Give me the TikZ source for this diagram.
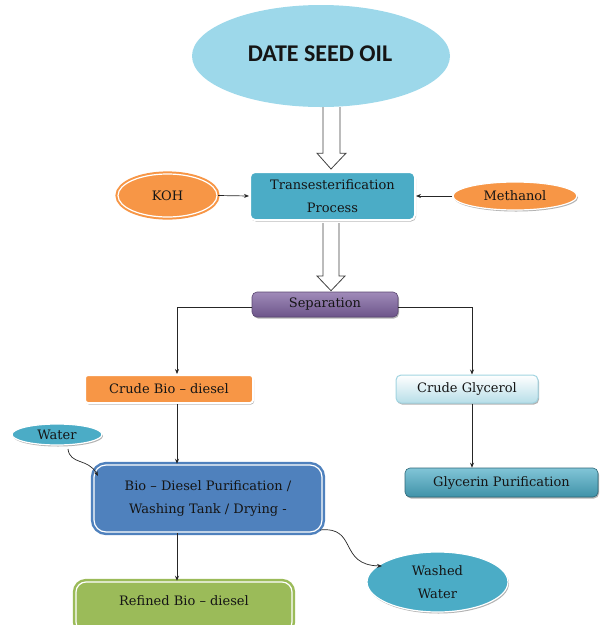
\documentclass[tikz,border=0pt]{standalone}
\usepackage{fontspec}
\setmainfont{DejaVu Serif}
\newfontfamily\titlefont{Carlito}
\usetikzlibrary{shapes.geometric,arrows.meta,shadows,calc}
\definecolor{skyC}{HTML}{9DD8EA}
\definecolor{tealC}{HTML}{4BACC6}
\definecolor{orangeC}{HTML}{F79646}
\definecolor{purpleC}{HTML}{8064A2}
\definecolor{blueC}{HTML}{4F81BD}
\definecolor{greenC}{HTML}{9BBB59}
\definecolor{lblueC}{HTML}{B7DEE8}
\definecolor{txtC}{HTML}{151515}
\tikzset{
  lbl/.style={font=\fontsize{13}{23}\selectfont, text=txtC, align=center, inner sep=0pt},
  shad/.style={drop shadow={shadow xshift=1pt, shadow yshift=-1.5pt, opacity=0.3, fill=black}},
  rbox/.style={lbl, rectangle, rounded corners=5pt, shad},
  oval/.style={lbl, ellipse, inner sep=0pt, shad},
  conn/.style={draw=black!85, line width=0.7pt, -{Stealth[length=5pt,width=4pt]}},
  hollow/.style={draw=black!75, line width=0.8pt, fill=white, line join=miter}
}
\begin{document}
\begin{tikzpicture}[x=1pt,y=-1pt]
\useasboundingbox (0,0) rectangle (603,625);
% top ellipse
\node[ellipse, fill=skyC, minimum width=258pt, minimum height=102pt, inner sep=0pt] (title) at (321,56) {};
\node[font=\titlefont\bfseries\fontsize{24}{28}\selectfont, text=txtC] (titletxt) at (320,54) {DATE SEED OIL};
% process boxes
\node[rbox, fill=tealC, draw=white, line width=2pt, minimum width=165pt, minimum height=48pt] (trans) at (332.5,196) {Transesterification\\Process};
\node[oval, fill=orangeC, draw=orangeC, line width=2pt, double=white, double distance=1.2pt, minimum width=99pt, minimum height=43pt] (koh) at (167.5,195.5) {KOH};
\node[oval, fill=orangeC, draw=white, line width=1.2pt, minimum width=124pt, minimum height=28pt] (meth) at (515,196) {Methanol};
\node[rbox, top color=purpleC!75!white, bottom color=purpleC!85!black, draw=purpleC!70!black, line width=0.6pt, minimum width=146pt, minimum height=25pt] (sep) at (325,304.5) {Separation};
\node[rbox, fill=orangeC, draw=white, line width=2pt, minimum width=168pt, minimum height=28pt, rounded corners=3pt] (cbio) at (169,389) {Crude Bio -- diesel};
\node[rbox, top color=white, bottom color=lblueC, draw=lblueC!80!tealC, line width=1pt, minimum width=142pt, minimum height=28pt] (cgly) at (467,389) {Crude Glycerol};
\node[rbox, top color=tealC!70!white, bottom color=tealC!85!black, draw=tealC!60!black, line width=0.6pt, minimum width=193pt, minimum height=29pt] (glyc) at (501.5,482.5) {Glycerin Purification};
\node[oval, fill=tealC, draw=white, line width=1.2pt, minimum width=90pt, minimum height=21pt] (water) at (57,434.5) {Water};
\node[rbox, fill=blueC, draw=blueC, line width=2.5pt, double=white, double distance=1.2pt, rounded corners=12pt, minimum width=228pt, minimum height=67pt] (purif) at (208,498.5) {Bio -- Diesel Purification /\\Washing Tank / Drying -};
\node[rbox, fill=greenC, draw=greenC, line width=2.5pt, double=white, double distance=1.2pt, rounded corners=10pt, minimum width=216pt, minimum height=50pt] (refined) at (184,607) {};
\node[lbl] (refinedtxt) at (184,601) {Refined Bio -- diesel};
\node[oval, fill=tealC, draw=white, line width=1.2pt, minimum width=141pt, minimum height=60pt] (washed) at (437.5,582) {Washed\\Water};
% hollow arrows
\draw[hollow] ($(title.south)+(2,0)$) -- ($(title.south)+(2,46)$) -- ($(title.south)+(-4,46)$) -- ($(trans.north)+(-1.5,-2)$) -- ($(title.south)+(25,46)$) -- ($(title.south)+(19,46)$) -- ($(title.south)+(19,0)$);
\draw[hollow] ($(trans.south)+(-9.5,2)$) -- ($(trans.south)+(-9.5,55)$) -- ++(-6,0) -- ($(sep.north)+(6,-1)$) -- ($(trans.south)+(12.5,55)$) -- ++(-6,0) -- ($(trans.south)+(6.5,2)$);
% connectors
\coordinate (lx) at (177,0);
\coordinate (rx) at (472,0);
\coordinate (wtip) at (98,476);
\coordinate (wstart) at (68,449);
\coordinate (pstart) at (320,530);
\coordinate (wwtip) at (382,566);
\draw[conn] (koh.east) -- (trans.west);
\draw[conn] (meth.west) -- (trans.east);
\draw[conn] ($(sep.west)+(0,2.5)$) -| (lx |- cbio.north);
\draw[conn] ($(sep.east)+(0,2.5)$) -| (rx |- cgly.north);
\draw[conn] (lx |- cbio.south) -- (lx |- purif.north);
\draw[conn] (rx |- cgly.south) -- (rx |- glyc.north);
\draw[conn] (lx |- purif.south) -- (lx |- refined.north);
\draw[conn] (wstart) .. controls (70,465) and (88,458) .. (wtip);
\draw[conn] (pstart) .. controls (358,526) and (338,565) .. (wwtip);
\end{tikzpicture}
\end{document}
